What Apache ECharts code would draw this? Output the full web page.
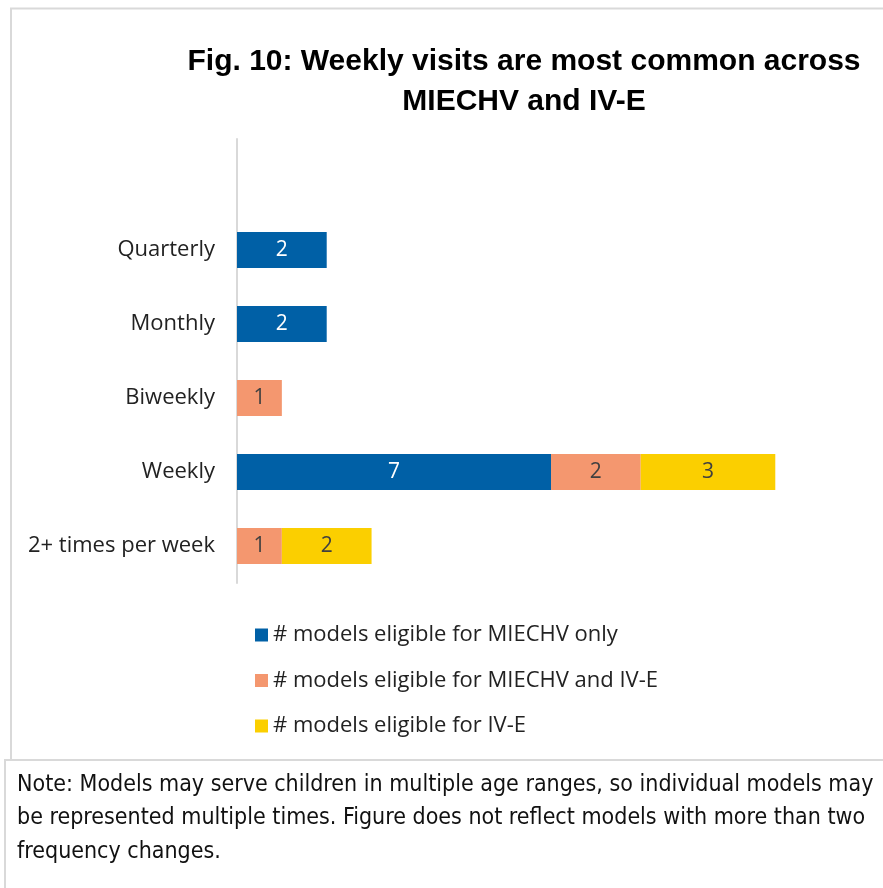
<!DOCTYPE html>
<html><head><meta charset="utf-8">
<script src="https://cdn.jsdelivr.net/npm/echarts@6/dist/echarts.min.js"></script>
<style>html,body{margin:0;padding:0;background:#fff}#c{width:883px;height:888px}</style>
</head><body><div id="c"></div>
<script>
const titleText = 'Fig. 10: Weekly visits are most common across\nMIECHV and IV-E';
const categories = ['2+ times per week', 'Weekly', 'Biweekly', 'Monthly', 'Quarterly', ''];
const seriesNames = ['# models eligible for MIECHV only', '# models eligible for MIECHV and IV-E', '# models eligible for IV-E'];
const miechvOnly = [null, 7, null, 2, 2, null];
const miechvAndIVE = [1, 2, 1, null, null, null];
const iveOnly = [2, 3, null, null, null, null];
const noteLines = [
  'Note: Models may serve children in multiple age ranges, so individual models may',
  'be represented multiple times. Figure does not reflect models with more than two',
  'frequency changes.'
];
const colors = ['#0060A6', '#F4976F', '#FBCF00'];
const labelColors = ['#ffffff', '#404040', '#404040'];
const values = [miechvOnly, miechvAndIVE, iveOnly];
const FONT = 'Open Sans';

const chart = echarts.init(document.getElementById('c'), null, {renderer: 'canvas'});
chart.setOption({
  animation: false,
  backgroundColor: '#fff',
  title: {
    text: titleText, left: 524, top: 42, textAlign: 'center', padding: 0,
    textStyle: {fontFamily: 'Liberation Sans', fontWeight: 'bold', fontSize: 30, color: '#000', lineHeight: 40}
  },
  grid: {left: 237, top: 139, width: 628, height: 444, containLabel: false},
  xAxis: {type: 'value', min: 0, max: 14, show: false},
  yAxis: {
    type: 'category', data: categories,
    axisLine: {show: true, lineStyle: {color: '#d9d9d9', width: 2}},
    axisTick: {show: false},
    axisLabel: {fontFamily: FONT, fontSize: 22, color: '#222', margin: 22}
  },
  legend: {
    orient: 'vertical', left: 255, top: 624, padding: 0, itemWidth: 13, itemHeight: 13, itemGap: 23.5,
    icon: 'rect', data: seriesNames,
    textStyle: {fontFamily: FONT, fontSize: 22, color: '#222'}
  },
  series: seriesNames.map((n, i) => ({
    name: n, type: 'bar', stack: 'total', data: values[i], barWidth: 36,
    itemStyle: {color: colors[i]},
    label: {show: true, position: 'inside', fontFamily: FONT, fontSize: 21, color: labelColors[i]}
  })),
  graphic: [
    {type: 'polyline', shape: {points: [[11, 888], [11, 8.5], [883, 8.5]]}, style: {stroke: '#d9d9d9', lineWidth: 2, fill: null}},
    {type: 'polyline', shape: {points: [[5, 888], [5, 760], [883, 760]]}, style: {stroke: '#d9d9d9', lineWidth: 2, fill: null}},
    {type: 'rect', shape: {x: 6, y: 761, width: 877, height: 127}, style: {fill: '#fff'}, z: 5},
    {type: 'text', left: 17, top: 768, z: 10,
     style: {text: noteLines.join('\n'), fontFamily: 'DejaVu Sans Condensed', fontSize: 23, lineHeight: 33.5, fill: '#111'}}
  ]
});
</script></body></html>
